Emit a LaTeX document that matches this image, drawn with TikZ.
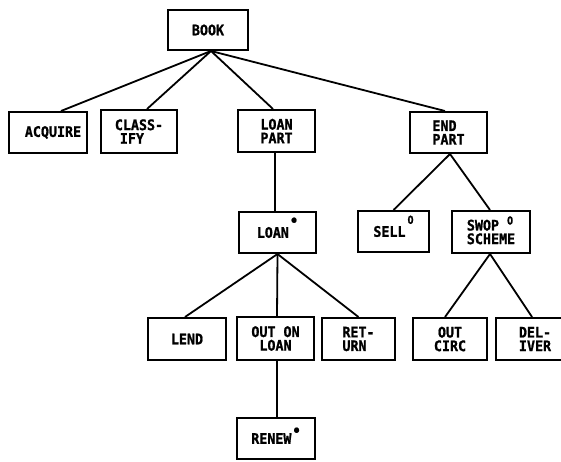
\documentclass[tikz,border=0pt]{standalone}
\usepackage{fontspec}
\newfontfamily\boxfont{DejaVu Sans Mono}[FakeStretch=0.92, FakeBold=1.2]

% raised marks after a process name: selection (o) and iteration (dot)
\newcommand\selmark[1]{\raisebox{#1}[0pt][0pt]{\fontsize{11}{11}\selectfont O}}
\newcommand\itermark[1]{\raisebox{#1}[0pt][0pt]{\fontsize{15}{15}\selectfont\textbullet}}

\begin{document}
\begin{tikzpicture}[x=1pt,y=-1pt,
  blk/.style={draw, line width=2pt, minimum width=#1, minimum height=42pt,
    inner sep=0pt, font=\boxfont\bfseries\fontsize{14.5}{13.6}\selectfont, align=center},
  blk/.default=77pt,
  lblk/.style={blk=#1, align=left},
  lblk/.default=77pt,
  link/.style={line width=1.8pt}]

\clip (0,0) rectangle (561,461);
\useasboundingbox (0,0) rectangle (561,461);

% top level
\node[blk=80pt, minimum height=40pt] (book) at (208,30) {BOOK};

% second level
\node[blk=78pt, minimum height=41pt] (acquire)  at (48,132.5)  {\hspace{10pt}ACQUIRE};
\node[lblk=76pt, minimum height=43pt] (classify) at (139,131.5) {CLASS-\\\hspace*{5pt}IFY};
\node[blk=77pt] (loanpart) at (276.5,131) {LOAN\\PART};
\node[lblk=77pt, minimum height=41pt] (endpart) at (448.5,132.5) {END\\PART};

% third level
\node[blk=77pt, minimum height=41pt] (loan) at (277.5,232.5) {LOAN\kern1pt\itermark{12pt}};
\node[blk=71pt, minimum height=41pt] (sell) at (393.5,231.5) {SELL\kern2pt\selmark{13pt}};
\node[lblk=78pt] (swop) at (491,232) {SWOP\hspace{8pt}\selmark{6pt}\\SCHEME};

% fourth level
\node[blk=78pt] (lend)      at (187,339)   {LEND};
\node[blk=77pt, minimum height=43pt] (outonloan) at (275.5,338.5) {OUT ON\\LOAN};
\node[lblk=73pt] (return)   at (358.5,339) {RET-\\URN};
\node[blk=74pt] (outcirc)   at (450,339)   {OUT\\CIRC};
\node[lblk=78pt] (deliver)  at (535,339)   {DEL-\\IVER};

% fifth level
\node[blk=78pt, minimum height=41pt] (renew) at (276,438.5) {RENEW\kern1pt\itermark{8pt}};

% connectors
\draw[link] ([xshift=3pt]book.south) -- ([xshift=13pt]acquire.north);
\draw[link] ([xshift=3pt]book.south) -- ([xshift=8pt]classify.north);
\draw[link] ([xshift=3pt]book.south) -- ([xshift=-3.5pt]loanpart.north);
\draw[link] ([xshift=3pt]book.south) -- ([xshift=-3.5pt]endpart.north);

\draw[link] ([xshift=-1.5pt]loanpart.south) -- ([xshift=-2.5pt]loan.north);

\draw[link] ([xshift=1.5pt]endpart.south) -- (sell.north);
\draw[link] ([xshift=1.5pt]endpart.south) -- ([xshift=-1pt]swop.north);

\draw[link] (loan.south) -- ([xshift=-2pt]lend.north);
\draw[link] (loan.south) -- ([xshift=1.5pt]outonloan.north);
\draw[link] (loan.south) -- (return.north);

\draw[link] ([xshift=-1pt]swop.south) -- ([xshift=-5pt]outcirc.north);
\draw[link] ([xshift=-1pt]swop.south) -- ([xshift=-3pt]deliver.north);

\draw[link] ([xshift=1.5pt]outonloan.south) -- ([xshift=1pt]renew.north);
\end{tikzpicture}
\end{document}
